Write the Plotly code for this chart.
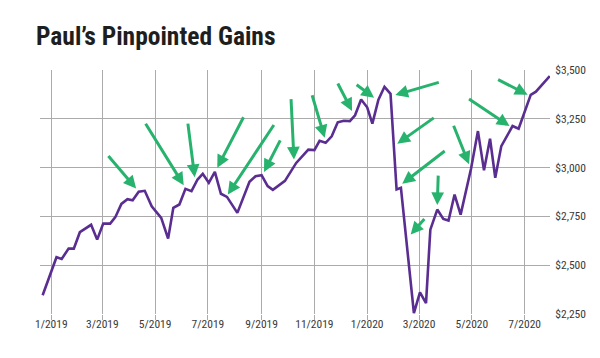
import plotly.graph_objects as go

# ---- data ----
dates = [
    "2018-12-22", "2019-01-07", "2019-01-13", "2019-01-21", "2019-01-27", "2019-02-03",
    "2019-02-16", "2019-02-23", "2019-03-02", "2019-03-10", "2019-03-16", "2019-03-23",
    "2019-03-30", "2019-04-05", "2019-04-12", "2019-04-19", "2019-04-27", "2019-05-08",
    "2019-05-16", "2019-05-22", "2019-05-29", "2019-06-05", "2019-06-12", "2019-06-19",
    "2019-06-25", "2019-07-02", "2019-07-09", "2019-07-16", "2019-07-23", "2019-08-04",
    "2019-08-18", "2019-08-25", "2019-09-01", "2019-09-08", "2019-09-14", "2019-09-28",
    "2019-10-11", "2019-10-25", "2019-11-01", "2019-11-07", "2019-11-14", "2019-11-21",
    "2019-11-28", "2019-12-05", "2019-12-12", "2019-12-18", "2019-12-25", "2020-01-01",
    "2020-01-07", "2020-01-14", "2020-01-21", "2020-01-28", "2020-02-04", "2020-02-09",
    "2020-02-24", "2020-03-02", "2020-03-09", "2020-03-14", "2020-03-22", "2020-03-29",
    "2020-04-04", "2020-04-11", "2020-04-18", "2020-04-30", "2020-05-08", "2020-05-15",
    "2020-05-22", "2020-05-28", "2020-06-04", "2020-06-17", "2020-06-24", "2020-07-08",
    "2020-07-14", "2020-07-30",
]
values = [
    2346, 2541, 2532, 2585, 2585, 2669,
    2707, 2631, 2713, 2713, 2746, 2814,
    2838, 2833, 2876, 2881, 2802, 2742,
    2636, 2794, 2811, 2891, 2879, 2939,
    2968, 2922, 2978, 2866, 2850, 2768,
    2927, 2956, 2961, 2905, 2886, 2932,
    3024, 3092, 3090, 3137, 3127, 3160,
    3232, 3240, 3238, 3268, 3349, 3309,
    3225, 3348, 3414, 3378, 2888, 2896,
    2255, 2361, 2306, 2682, 2785, 2737,
    2729, 2862, 2759, 2994, 3187, 2986,
    3148, 2948, 3110, 3213, 3199, 3373,
    3389, 3469,
]

# arrow heads (date, value) and tail offsets in px (ax, ay)
arrow_dates = [
    "2019-04-09", "2019-06-03", "2019-06-15 17:00", "2019-07-11 19:00", "2019-07-24",
    "2019-09-03 19:00", "2019-10-08 10:00", "2019-11-12 22:00", "2019-12-14 12:00",
    "2020-01-09", "2020-02-02 12:00", "2020-02-04 19:00", "2020-02-10 12:00",
    "2020-02-20 07:00", "2020-03-22", "2020-04-27 17:00", "2020-06-13 12:00",
    "2020-07-04 10:00",
]
arrow_values = [2893, 2910, 2951, 2999, 2862, 2978, 3041, 3153, 3290,
                3358, 3372, 3122, 2917, 2657, 2808, 3017, 3213, 3373]
arrow_ax = [-29, -39, -7, 27, 47, 17, -3, -13, -15, -19, 45, 38, 44, 15, 1, -16, -42, -31]
arrow_ay = [-34, -63, -55, -52, -71, -33, -62, -44, -29, -14, -13, -27, -34, -17, -31, -40, -28, -16]

y_ticks = [2250, 2500, 2750, 3000, 3250, 3500]
y_ticktext = ["$2,250", "$2,500", "$2,750", "$3,000", "$3,250", "$3,500"]

title_text = "Paul’s Pinpointed Gains"

# ---- styling ----
LINE = "#5a2d91"
GREEN = "#27b36d"
GRID = "#ababab"
TXT = "#3a3a3a"
COND = "Roboto Condensed, DejaVu Sans Condensed, sans-serif"

fig = go.Figure()
fig.add_trace(go.Scatter(
    x=dates, y=values, mode="lines",
    line=dict(color=LINE, width=2.6),
    hoverinfo="skip", showlegend=False,
))

for d, v, ax, ay in zip(arrow_dates, arrow_values, arrow_ax, arrow_ay):
    fig.add_annotation(
        x=d, y=v, xref="x", yref="y", text="",
        showarrow=True, ax=ax, ay=ay,
        arrowhead=2, arrowsize=0.85, arrowwidth=3, arrowcolor=GREEN,
    )

fig.update_layout(
    width=600, height=358,
    margin=dict(l=32, r=58, t=62, b=52),
    paper_bgcolor="white", plot_bgcolor="white",
    title=dict(
        text=f"<b>{title_text}</b>",
        x=28 / 600, xanchor="left", xref="container",
        y=1 - 28 / 358, yanchor="middle", yref="container",
        font=dict(family=COND, size=25.5, color="#1e1e1e"),
    ),
    xaxis=dict(
        type="date",
        range=["2018-12-18 22:30", "2020-07-30 06:30"],
        tick0="2019-01-01", dtick="M2", tickformat="%-m/%Y",
        showgrid=True, gridcolor=GRID, gridwidth=1,
        ticks="outside", ticklen=5, tickcolor=GRID, tickwidth=1,
        ticklabelstandoff=-6,
        showline=False, zeroline=False,
        tickfont=dict(family=COND, size=11.5, color=TXT),
    ),
    yaxis=dict(
        range=[2250, 3500], side="right",
        tickvals=y_ticks, ticktext=y_ticktext,
        showgrid=True, gridcolor=GRID, gridwidth=1,
        ticks="outside", ticklen=2, tickcolor="rgba(0,0,0,0)",
        showline=False, zeroline=False,
        tickfont=dict(family=COND, size=11.5, color=TXT),
    ),
)

fig.write_html("out.html")
